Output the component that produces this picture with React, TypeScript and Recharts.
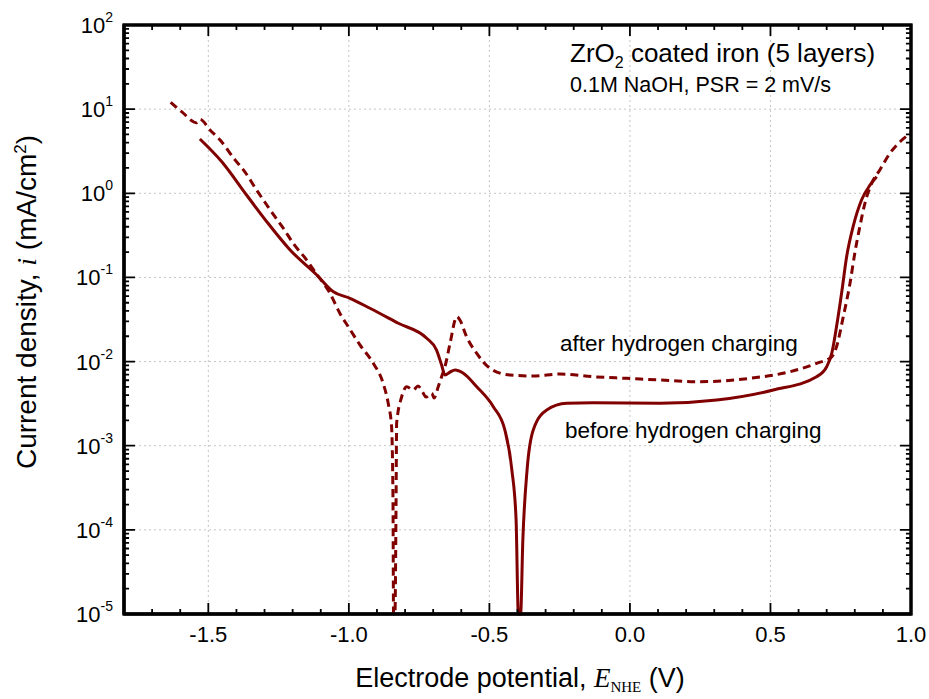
import React from 'react';
import { LineChart, Line, XAxis, YAxis, CartesianGrid, ReferenceArea } from 'recharts';

// Before hydrogen charging (solid)
const E_BEFORE = [
  -1.530, -1.452, -1.364, -1.292, -1.209, -1.114, -1.055, -0.996, -0.925, -0.824,
  -0.723, -0.688, -0.670, -0.658, -0.640, -0.622, -0.594, -0.545, -0.486, -0.445,
  -0.420, -0.405, -0.397, -0.389, -0.381, -0.366, -0.344, -0.296, -0.225, -0.132,
  0.107, 0.309, 0.510, 0.664, 0.700, 0.718, 0.735, 0.753, 0.771, 0.794,
  0.824, 0.854, 0.878,
];
const I_BEFORE = [
  4.42, 2.37, 0.954, 0.459, 0.212, 0.107, 0.0676, 0.0565, 0.0430, 0.0285,
  0.0189, 0.0137, 0.0091, 0.00692, 0.00751, 0.00794, 0.00731, 0.00502, 0.00291, 0.00154,
  5.14e-4, 1.31e-4, 1e-5, 1e-5, 7.57e-5, 5.14e-4, 0.00154, 0.00266, 0.00319, 0.00324,
  0.00319, 0.00349, 0.00459, 0.00661, 0.00869, 0.0125, 0.0259, 0.0648, 0.176, 0.401,
  0.832, 1.25, 1.57,
];

// After hydrogen charging (dashed)
const E_AFTER = [
  -1.634, -1.595, -1.541, -1.530, -1.494, -1.458, -1.405, -1.370, -1.328, -1.292,
  -1.263, -1.233, -1.198, -1.150, -1.121, -1.067, -1.032, -1.002, -0.960, -0.913,
  -0.878, -0.860, -0.848, -0.843, -0.841, -0.836, -0.832, -0.830, -0.812, -0.794,
  -0.771, -0.754, -0.735, -0.726, -0.705, -0.697, -0.682, -0.670, -0.658, -0.640,
  -0.616, -0.605, -0.581, -0.545, -0.498, -0.427, -0.344, -0.249, -0.130, -0.012,
  0.107, 0.249, 0.427, 0.569, 0.664, 0.718, 0.735, 0.759, 0.783, 0.800,
  0.818, 0.836, 0.860, 0.889, 0.925, 0.961, 0.998,
];
const I_AFTER = [
  12.06, 9.33, 6.90, 7.57, 5.65, 4.30, 2.49, 1.80, 1.09, 0.726,
  0.527, 0.384, 0.254, 0.161, 0.117, 0.0648, 0.0375, 0.0259, 0.0157, 0.00953,
  0.00552, 0.00319, 0.00168, 2.26e-4, 1e-5, 1e-5, 2.26e-4, 0.00185, 0.00382, 0.00502,
  0.00459, 0.00512, 0.00420, 0.00379, 0.00420, 0.00369, 0.00502, 0.00661, 0.00869, 0.0165,
  0.0341, 0.0312, 0.0197, 0.0125, 0.00832, 0.00692, 0.00674, 0.00711, 0.00661, 0.00632,
  0.00604, 0.00576, 0.00632, 0.00757, 0.00953, 0.0114, 0.0150, 0.0341, 0.0851, 0.194,
  0.401, 0.760, 1.31, 1.89, 2.99, 4.10, 5.16,
];

const X_MIN = -1.8;
const X_MAX = 1.0;
const Y_MIN = 1e-5;
const Y_MAX = 100;
const X_GRID = [-1.5, -1.0, -0.5, 0.0, 0.5];
const X_TICKS = [-1.7, -1.6, -1.5, -1.4, -1.3, -1.2, -1.1, -1.0, -0.9, -0.8, -0.7, -0.6, -0.5, -0.4, -0.3, -0.2, -0.1, 0.0, 0.1, 0.2, 0.3, 0.4, 0.5, 0.6, 0.7, 0.8, 0.9, 1.0];
const Y_DECADES = [-5, -4, -3, -2, -1, 0, 1, 2];
const Y_MINOR_MULT = [2, 3, 4, 5, 6, 7, 8, 9];
const Y_GRID = [1e-4, 1e-3, 1e-2, 1e-1, 1, 10];

const Y_TICKS: number[] = [];
Y_DECADES.forEach((d) => {
  Y_TICKS.push(Math.pow(10, d));
  if (d < 2) Y_MINOR_MULT.forEach((m) => Y_TICKS.push(m * Math.pow(10, d)));
});

const beforeData = E_BEFORE.map((e, k) => ({ E: e, i: I_BEFORE[k] }));
const afterData = E_AFTER.map((e, k) => ({ E: e, i: I_AFTER[k] }));

const isMajorY = (v: number) => {
  const l = Math.log10(v);
  return Math.abs(l - Math.round(l)) < 1e-6;
};
const isMajorX = (v: number) => Math.abs(v * 2 - Math.round(v * 2)) < 1e-6;

// tick-mark lengths expressed in axis units (about 11 px major, 5 px minor)
const TICK_DX_MAJOR = 0.039;
const TICK_DX_MINOR = 0.018;
const TICK_FY_MAJOR = 1.35;
const TICK_FY_MINOR = 1.147;

// plot frame, drawn through the axes' scales
const frameData = [
  { E: X_MIN, i: Y_MIN },
  { E: X_MIN, i: Y_MAX },
  { E: X_MAX, i: Y_MAX },
  { E: X_MAX, i: Y_MIN },
  { E: X_MIN, i: Y_MIN },
];

// inward tick marks on all four sides (null breaks the path between marks)
const tickMarkData: { E: number; i: number | null }[] = [];
Y_TICKS.filter((v) => v > Y_MIN && v < Y_MAX).forEach((v) => {
  const dx = isMajorY(v) ? TICK_DX_MAJOR : TICK_DX_MINOR;
  tickMarkData.push({ E: X_MIN, i: v }, { E: X_MIN + dx, i: v }, { E: X_MIN + dx, i: null });
  tickMarkData.push({ E: X_MAX - dx, i: v }, { E: X_MAX, i: v }, { E: X_MAX, i: null });
});
X_TICKS.filter((v) => v > X_MIN && v < X_MAX).forEach((v) => {
  const f = isMajorX(v) ? TICK_FY_MAJOR : TICK_FY_MINOR;
  tickMarkData.push({ E: v, i: Y_MIN }, { E: v, i: Y_MIN * f }, { E: v, i: null });
  tickMarkData.push({ E: v, i: Y_MAX / f }, { E: v, i: Y_MAX }, { E: v, i: null });
});

const FONT = "'Liberation Sans', Arial, Helvetica, sans-serif";
const SERIF = "'Liberation Serif', 'Times New Roman', serif";
const RED = '#800000';
const GRID = '#c4c4c4';
const INK = '#000';

const LeftTick = (p: any) => {
  const { x, y, payload } = p;
  const v = payload.value;
  if (!isMajorY(v)) return <g />;
  return (
    <text x={x - 11} y={y + 8} textAnchor="end" fontSize={22} fontFamily={FONT} fill="#000">
      10
      <tspan dy={-11} fontSize={14}>{Math.round(Math.log10(v))}</tspan>
    </text>
  );
};

const BottomTick = (p: any) => {
  const { x, y, payload } = p;
  const v = payload.value;
  if (!isMajorX(v)) return <g />;
  return (
    <text x={x} y={y + 28} textAnchor="middle" fontSize={22} fontFamily={FONT} fill="#000">
      {v.toFixed(1)}
    </text>
  );
};

const abs = (left: number, top: number, size: number, extra: any = {}) => ({
  position: 'absolute' as const,
  left,
  top,
  fontSize: size,
  lineHeight: `${size}px`,
  fontFamily: FONT,
  color: '#000',
  whiteSpace: 'nowrap' as const,
  ...extra,
});

export default function App() {
  return (
    <div style={{ position: 'absolute', left: 0, top: 0, width: 929, height: 699, background: '#fff' }}>
      <LineChart width={929} height={699} margin={{ top: 25, right: 18, bottom: 0, left: 0 }}>
        <CartesianGrid
          stroke={GRID}
          strokeDasharray="2 3"
          verticalValues={X_GRID}
          horizontalValues={Y_GRID}
        />
        <XAxis
          dataKey="E"
          type="number"
          domain={[X_MIN, X_MAX]}
          ticks={X_TICKS}
          interval={0}
          tickSize={0}
          tickMargin={0}
          tick={BottomTick}
          height={85}
          axisLine={{ stroke: INK, strokeWidth: 3 }}
          tickLine={false}
        />
        <YAxis
          type="number"
          scale="log"
          domain={[Y_MIN, Y_MAX]}
          ticks={Y_TICKS}
          interval={0}
          tickSize={0}
          tickMargin={0}
          tick={LeftTick}
          width={124}
          axisLine={{ stroke: INK, strokeWidth: 3 }}
          tickLine={false}
        />
        <ReferenceArea
          x1={X_MIN}
          x2={X_MAX}
          y1={Y_MIN}
          y2={Y_MAX}
          fill="none"
          fillOpacity={0}
          stroke={INK}
          strokeWidth={3}
          strokeOpacity={1}
          ifOverflow="visible"
        />
        <Line
          data={afterData}
          dataKey="i"
          type="monotone"
          stroke={RED}
          strokeWidth={3}
          strokeDasharray="8 5"
          dot={false}
          isAnimationActive={false}
        />
        <Line
          data={beforeData}
          dataKey="i"
          type="monotone"
          stroke={RED}
          strokeWidth={3}
          dot={false}
          isAnimationActive={false}
        />
        <Line
          data={tickMarkData}
          dataKey="i"
          type="linear"
          stroke={INK}
          strokeWidth={1.8}
          dot={false}
          activeDot={false}
          connectNulls={false}
          isAnimationActive={false}
        />
        <Line
          data={frameData}
          dataKey="i"
          type="linear"
          stroke={INK}
          strokeWidth={3}
          strokeLinecap="square"
          strokeLinejoin="miter"
          dot={false}
          activeDot={false}
          isAnimationActive={false}
        />
      </LineChart>
      <div style={abs(570, 40, 26)}>
        ZrO<sub style={{ fontSize: 16, verticalAlign: '-6px', lineHeight: 0 }}>2</sub> coated iron (5 layers)
      </div>
      <div style={abs(570, 75, 21.5)}>0.1M NaOH, PSR = 2 mV/s</div>
      <div style={abs(560, 333, 22.5)}>after hydrogen charging</div>
      <div style={abs(565, 420, 22.5)}>before hydrogen charging</div>
      <div
        style={abs(27 - 200, 302 - 14, 28, {
          width: 400,
          textAlign: 'center',
          lineHeight: '28px',
          transform: 'rotate(-90deg)',
          transformOrigin: '50% 50%',
        })}
      >
        Current density, <span style={{ fontFamily: SERIF, fontStyle: 'italic' }}>i</span> (mA/cm
        <sup style={{ fontSize: 17, verticalAlign: '10px', lineHeight: 0 }}>2</sup>)
      </div>
      <div style={abs(320, 665, 27, { width: 400, textAlign: 'center' })}>
        Electrode potential, <span style={{ fontFamily: SERIF, fontStyle: 'italic' }}>E</span>
        <sub style={{ fontSize: 15, fontFamily: SERIF, verticalAlign: '-5px', lineHeight: 0 }}>NHE</sub> (V)
      </div>
    </div>
  );
}
